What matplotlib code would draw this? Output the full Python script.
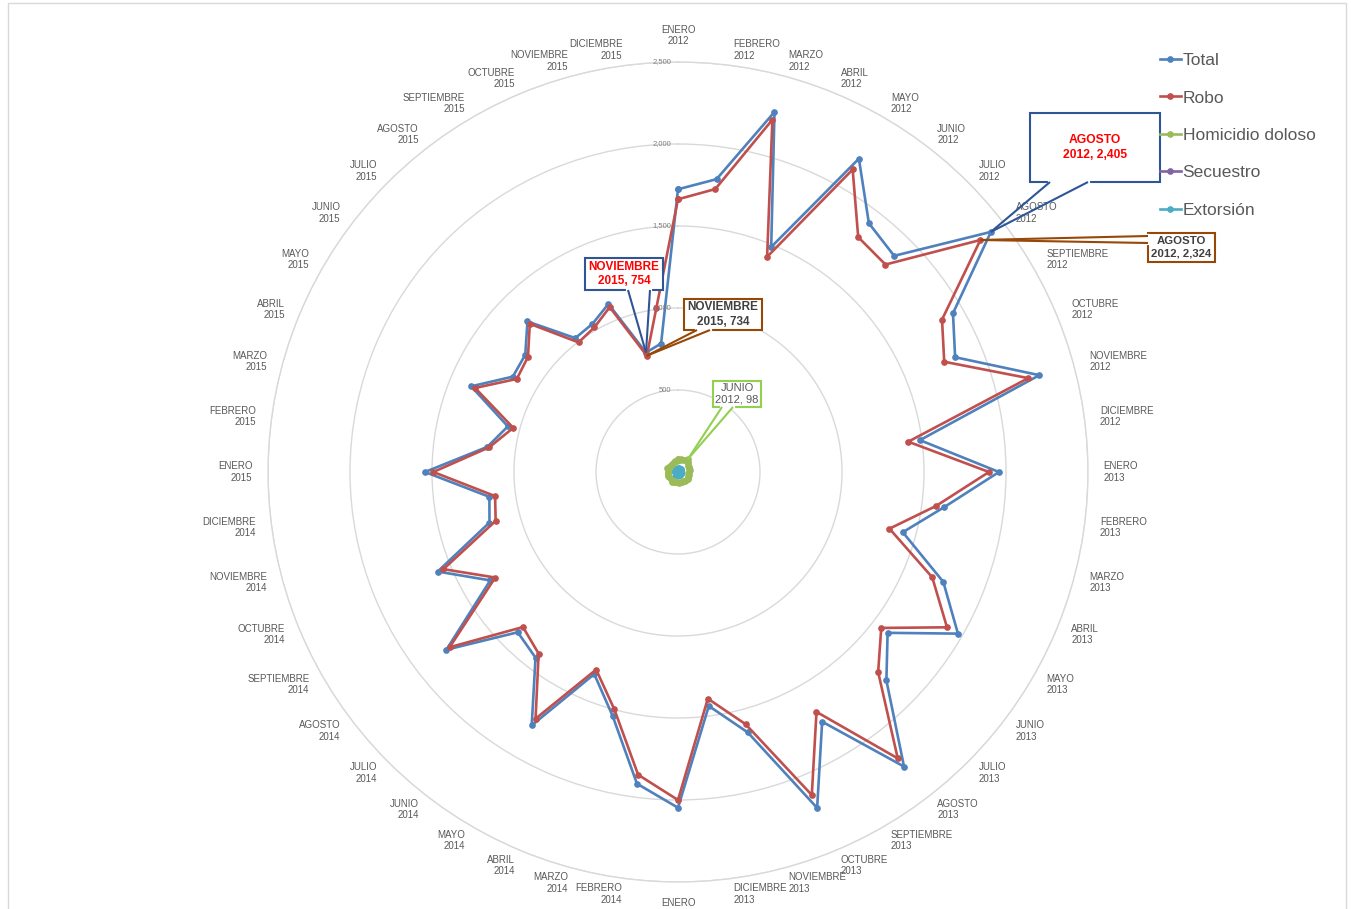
import numpy as np
import matplotlib
matplotlib.use('Agg')
import matplotlib.pyplot as plt
from matplotlib.patches import Rectangle
from matplotlib.lines import Line2D
from matplotlib.transforms import IdentityTransform

plt.rcParams['font.family'] = ['Liberation Sans', 'DejaVu Sans']

meses = ['ENERO', 'FEBRERO', 'MARZO', 'ABRIL', 'MAYO', 'JUNIO', 'JULIO', 'AGOSTO',
         'SEPTIEMBRE', 'OCTUBRE', 'NOVIEMBRE', 'DICIEMBRE']
anios = ['2012', '2013', '2014', '2015']

total = [1724, 1801, 2273, 1485, 2206, 1912, 1864, 2405, 1936, 1829, 2281, 1488,
         1957, 1638, 1419, 1751, 1971, 1611, 1797, 2264, 1758, 2217, 1644, 1439,
         2047, 1917, 1540, 1334, 1784, 1427, 1382, 1780, 1322, 1586, 1190, 1160,
         1543, 1173, 1074, 1365, 1163, 1174, 1298, 1029, 1043, 1109, 754, 790]
robo = [1663, 1740, 2224, 1420, 2130, 1805, 1789, 2324, 1859, 1757, 2211, 1416,
        1896, 1587, 1335, 1678, 1894, 1562, 1726, 2201, 1689, 2132, 1592, 1394,
        2000, 1862, 1499, 1304, 1737, 1396, 1337, 1755, 1287, 1548, 1151, 1125,
        1492, 1160, 1040, 1339, 1135, 1153, 1278, 996, 1019, 1088, 734, 1010]
homicidio = [78, 74, 80, 76, 84, 98, 82, 77, 72, 74, 68, 72,
             66, 61, 70, 66, 72, 74, 70, 67, 63, 69, 62, 66,
             58, 60, 62, 65, 69, 64, 60, 57, 62, 66, 60, 64,
             62, 58, 66, 70, 64, 60, 56, 62, 58, 64, 70, 68]
secuestro = [6, 5, 7, 5, 6, 5, 8, 6, 5, 4, 6, 5,
             5, 4, 6, 5, 4, 6, 5, 4, 5, 6, 4, 5,
             4, 5, 3, 4, 5, 4, 3, 4, 5, 3, 4, 4,
             3, 4, 3, 4, 3, 4, 3, 3, 4, 3, 4, 3]
extorsion = [20, 22, 24, 21, 23, 22, 25, 24, 21, 20, 22, 19,
             21, 20, 18, 20, 22, 19, 21, 20, 18, 19, 17, 18,
             17, 18, 16, 18, 19, 17, 16, 18, 17, 16, 15, 17,
             16, 15, 17, 16, 15, 16, 14, 15, 16, 15, 14, 15]

series = [('Total', total, '#4F81BD'), ('Robo', robo, '#C0504D'),
          ('Homicidio doloso', homicidio, '#9BBB59'), ('Secuestro', secuestro, '#8064A2'),
          ('Extorsión', extorsion, '#4BACC6')]

W, H = 1351, 909
fig = plt.figure(figsize=(W / 100, H / 100), dpi=100)
cx, cy, R = 678, 472, 410
ax = fig.add_axes([(cx - R) / W, (H - cy - R) / H, 2 * R / W, 2 * R / H], projection='polar')
ax.set_theta_zero_location('N')
ax.set_theta_direction(-1)
ax.set_ylim(0, 2500)
ax.set_xticks([])
ax.set_yticks([500, 1000, 1500, 2000, 2500])
ax.set_yticklabels([])
ax.yaxis.grid(True, color='#D9D9D9', lw=1)
ax.spines['polar'].set_color('#D9D9D9')
ax.spines['polar'].set_linewidth(1)

n = len(total)
theta = np.arange(n) * 2 * np.pi / n
th_c = np.append(theta, theta[0])
for name, vals, col in series:
    v = np.append(vals, vals[0])
    ax.plot(th_c, v, color=col, lw=1.9, marker='o', ms=3.8, label=name, clip_on=False)

# etiquetas radiales
for r in [500, 1000, 1500, 2000, 2500]:
    ax.annotate(f'{r:,}', xy=(0, r), xytext=(-7, 0), textcoords='offset pixels',
                ha='right', va='center', fontsize=5.5, color='#7F7F7F')

# etiquetas de categorias
for k in range(n):
    t = theta[k]
    s, c = np.sin(t), np.cos(t)
    ha = 'center' if abs(s) < 0.01 else ('left' if s > 0 else 'right')
    va = 'bottom' if c > 0.999 else ('top' if c < -0.999 else 'center')
    ax.text(t, 2595, f'{meses[k % 12]}\n{anios[k // 12]}', ha=ha, va=va, fontsize=7,
            color='#595959', clip_on=False, linespacing=1.15)

leg = fig.legend(loc='upper left', bbox_to_anchor=(1160 / W, 1 - 53 / H), frameon=False,
                 fontsize=12.5, handlelength=1.2, handletextpad=0.1, labelspacing=1.28,
                 borderaxespad=0, borderpad=0)
for t in leg.get_texts():
    t.set_color('#595959')


def callout(text, tip, box, base, ec, tc, weight, size):
    ident = IdentityTransform()
    tx, ty = ax.transData.transform(tip)
    x0, y0, x1, y1 = box
    fig.add_artist(Rectangle((x0, H - y1), x1 - x0, y1 - y0, transform=ident,
                             fc='white', ec=ec, lw=1.5, zorder=5))
    b = [(p[0], H - p[1]) for p in base]
    fig.add_artist(Line2D([b[0][0], b[1][0]], [b[0][1], b[1][1]], transform=ident,
                          color='white', lw=3, zorder=6))
    for p in b:
        fig.add_artist(Line2D([p[0], tx], [p[1], ty], transform=ident, color=ec, lw=1.5,
                              zorder=7, solid_capstyle='butt'))
    fig.text((x0 + x1) / 2 / W, 1 - (y0 + y1) / 2 / H, text, ha='center', va='center',
             color=tc, fontsize=size, fontweight=weight, zorder=8, linespacing=1.25)


callout('AGOSTO\n2012, 2,405', (theta[7], total[7]), (1030, 113, 1160, 182),
        [(1050, 182), (1088, 182)], '#2F5597', '#FF0000', 'bold', 8.7)
callout('AGOSTO\n2012, 2,324', (theta[7], robo[7]), (1148, 233, 1215, 262),
        [(1148, 236), (1148, 243)], '#974806', '#404040', 'bold', 8.2)
callout('NOVIEMBRE\n2015, 754', (theta[46], total[46]), (585, 258, 663, 290),
        [(628, 290), (650, 290)], '#2F5597', '#FF0000', 'bold', 8.5)
callout('NOVIEMBRE\n2015, 734', (theta[46], robo[46]), (684, 299, 762, 330),
        [(697, 330), (710, 330)], '#974806', '#404040', 'bold', 8.5)
callout('JUNIO\n2012, 98', (theta[5], homicidio[5]), (713, 381, 761, 407),
        [(722, 407), (733, 407)], '#92D050', '#595959', 'normal', 8)

# marco del area del grafico
fig.add_artist(Rectangle((8, -10), 1338, H - 3 + 10, transform=IdentityTransform(),
                         fc='none', ec='#D9D9D9', lw=1, zorder=0))

fig.savefig('out.png', dpi=100)
